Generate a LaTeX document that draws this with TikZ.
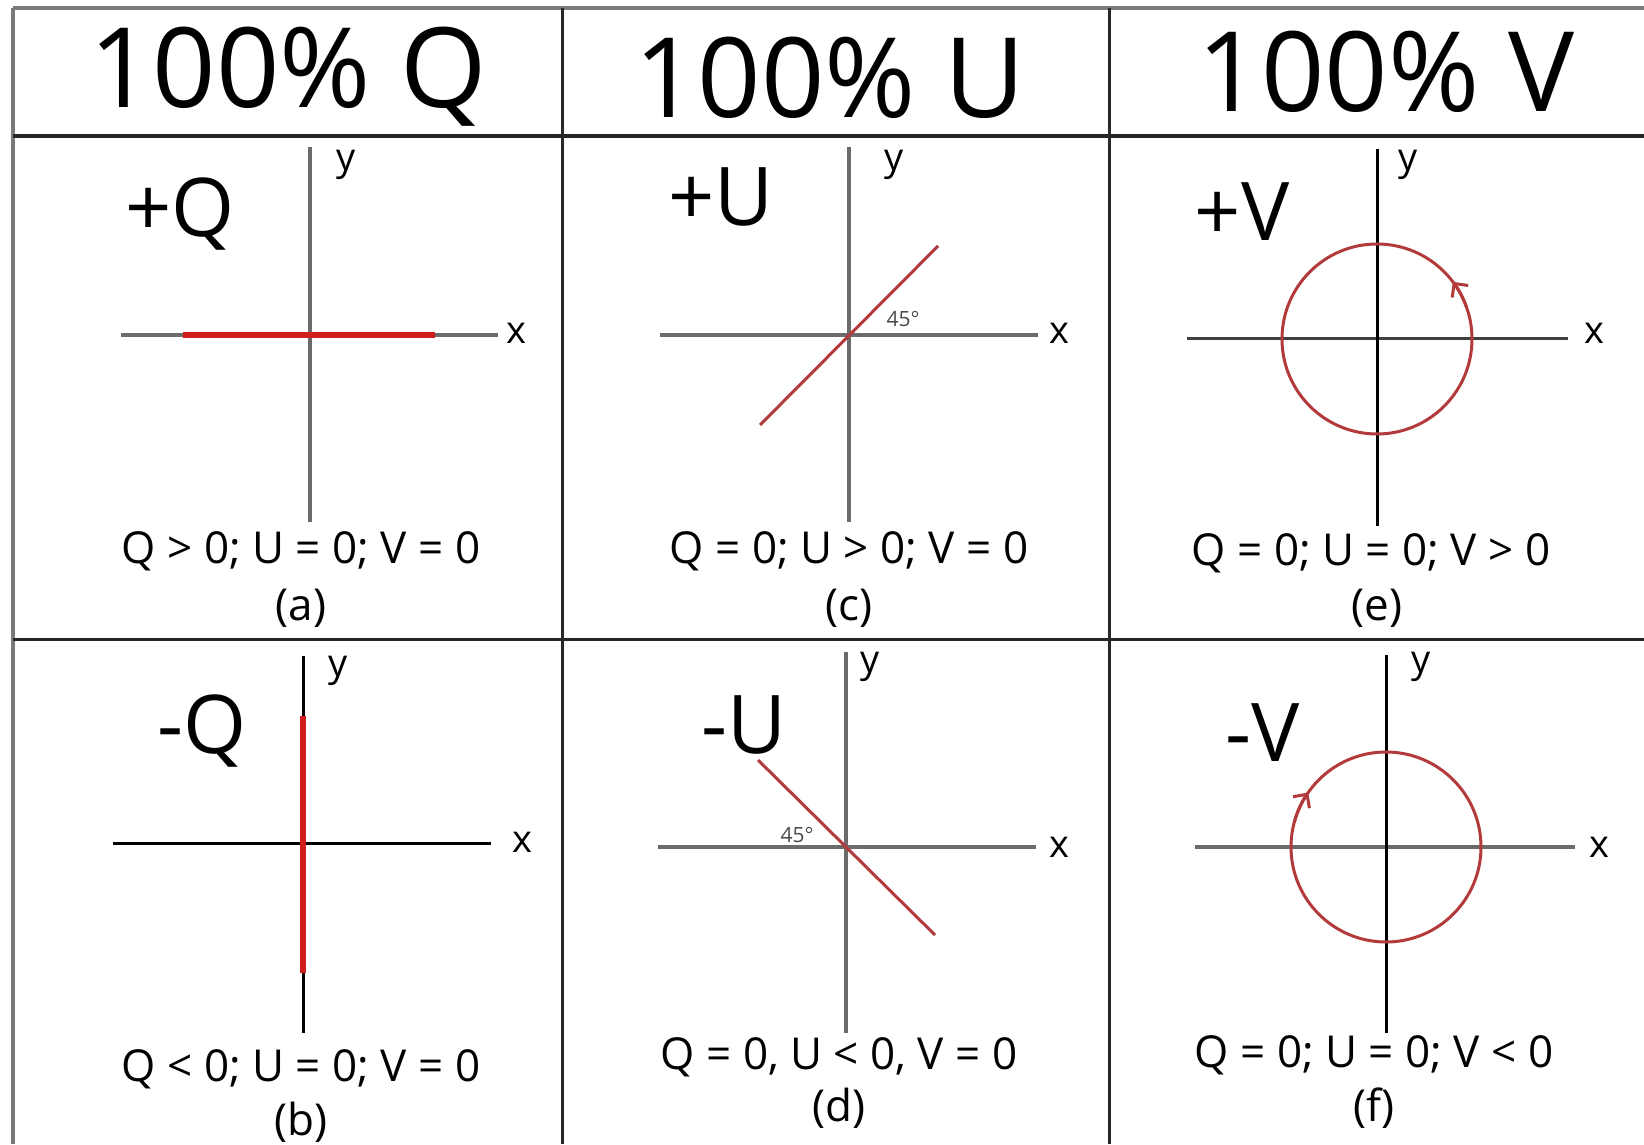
\documentclass[tikz,border=0pt]{standalone}
\usepackage{fontspec}
\setmainfont{Open Sans}
\usetikzlibrary{arrows.meta}
\definecolor{my_rule}{HTML}{262626}
\definecolor{my_frame}{HTML}{7A7A7A}
\definecolor{my_axis}{HTML}{6B6B6B}
\definecolor{my_red}{HTML}{D01E1E}
\definecolor{my_darkred}{HTML}{B23A3A}
\newcommand{\fnthead}{\fontsize{111}{120}\selectfont}
\newcommand{\fntsign}{\fontsize{81}{88}\selectfont}
\newcommand{\fntcond}{\fontsize{44}{50}\selectfont}
\newcommand{\fntaxis}{\fontsize{38}{44}\selectfont}
\newcommand{\fntangle}{\fontsize{21}{24}\selectfont}

\begin{document}
\begin{tikzpicture}[
    x=1pt, y=1pt,
    tablerule/.style={my_rule, line width=3pt},
    tableframe/.style={my_frame, line width=4pt},
    axisline/.style={my_axis, line width=4pt},
    axisdark/.style={black, line width=3pt},
    polline/.style={my_red, line width=6pt},
    redtrace/.style={my_darkred, line width=3pt},
    spin/.style={redtrace, -{Straight Barb[length=10pt, width=20pt]}},
    hdr/.style={inner sep=0pt, anchor=base, font=\fnthead},
    signlbl/.style={inner sep=0pt, font=\fntsign},
    condtext/.style={inner sep=0pt, font=\fntcond},
    axlbl/.style={inner sep=0pt, font=\fntaxis},
    anglbl/.style={inner sep=0pt, font=\fntangle, my_axis!70!black}
]
\useasboundingbox (0,0) rectangle (1644,1144);

% ---------------------------------------------------------------
%  Table: header row + two rows of three panels
%  (pixel grid of the figure, y measured upwards)
% ---------------------------------------------------------------
\draw[tableframe] (13,1136) -- (1644,1136);
\draw[tableframe] (13,1136) -- (13,0);
\draw[tablerule] (562,1136) -- (562,0);
\draw[tablerule] (1109,1136) -- (1109,0);
\draw[tablerule, line width=4pt] (13,1008) -- (1644,1008);
\draw[tablerule] (13,504) -- (1644,504);

% ---- Header row ----
\node[hdr] (hdrQ) at (288,1036) {100\% Q};
\node[hdr] (hdrU) at (830,1026) {100\% U};
\node[hdr] (hdrV) at (1386,1032) {100\% V};

% ---------------------------------------------------------------
%  Panel (a):  +Q, horizontal polarisation
% ---------------------------------------------------------------
\coordinate (Oa) at (310,809);
\draw[axisline] (121,809) -- (498,809);
\draw[axisline] (310,997) -- (310,622);
\draw[polline] (183,809) -- (435,809);
\node[axlbl] (xa) at (516,811) {x};
\node[axlbl] (ya) at (346,979) {y};
\node[signlbl] (sa) at (180,930) {+Q};
\node[condtext] (ca) at (301,593) {Q > 0; U = 0; V = 0};
\node[condtext] (pa) at (301,536) {(a)};

% ---------------------------------------------------------------
%  Panel (c):  +U, line at +45 deg
% ---------------------------------------------------------------
\coordinate (Oc) at (849,809);
\draw[axisline] (660,809) -- (1038,809);
\draw[axisline] (849,997) -- (849,622);
\draw[redtrace] (760,719) -- (938,898);
\node[anglbl] (ac) at (903,825) {45°};
\node[axlbl] (xc) at (1059,811) {x};
\node[axlbl] (yc) at (894,979) {y};
\node[signlbl] (sc) at (721,947) {+U};
\node[condtext] (cc) at (849,593) {Q = 0; U > 0; V = 0};
\node[condtext] (pc) at (849,536) {(c)};

% ---------------------------------------------------------------
%  Panel (e):  +V, counter-clockwise circle
% ---------------------------------------------------------------
\coordinate (Oe) at (1377,805);
\draw[axisdark, my_axis!60!black] (1187,805) -- (1568,805);
\draw[axisdark] (1377,995) -- (1377,618);
\draw[redtrace] (Oe) circle (95);
\draw[spin] (Oe) ++(20:95) arc (20:37:95);
\node[axlbl] (xe) at (1594,811) {x};
\node[axlbl] (ye) at (1408,979) {y};
\node[signlbl] (se) at (1242,932) {+V};
\node[condtext] (ce) at (1371,591) {Q = 0; U = 0; V > 0};
\node[condtext] (pe) at (1377,536) {(e)};

% ---------------------------------------------------------------
%  Panel (b):  -Q, vertical polarisation
% ---------------------------------------------------------------
\coordinate (Ob) at (303,300);
\draw[axisdark] (113,300) -- (491,300);
\draw[axisdark] (303,488) -- (303,111);
\draw[polline] (303,428) -- (303,171);
\node[axlbl] (xb) at (522,302) {x};
\node[axlbl] (yb) at (338,473) {y};
\node[signlbl] (sb) at (202,413) {-Q};
\node[condtext] (cb) at (301,75) {Q < 0; U = 0; V = 0};
\node[condtext] (pb) at (301,22) {(b)};

% ---------------------------------------------------------------
%  Panel (d):  -U, line at -45 deg
% ---------------------------------------------------------------
\coordinate (Od) at (846,297);
\draw[axisline] (658,297) -- (1036,297);
\draw[axisline] (846,492) -- (846,111);
\draw[redtrace] (758,384) -- (935,209);
\node[anglbl] (ad) at (797,309) {45°};
\node[axlbl] (xd) at (1059,297) {x};
\node[axlbl] (yd) at (870,477) {y};
\node[signlbl] (sd) at (744,419) {-U};
\node[condtext] (cd) at (839,87) {Q = 0, U < 0, V = 0};
\node[condtext] (pd) at (839,36) {(d)};

% ---------------------------------------------------------------
%  Panel (f):  -V, clockwise circle
% ---------------------------------------------------------------
\coordinate (Of) at (1386,297);
\draw[axisline] (1195,297) -- (1575,297);
\draw[axisdark] (1386,489) -- (1386,111);
\draw[redtrace] (Of) circle (95);
\draw[spin] (Of) ++(165:95) arc (165:145:95);
\node[axlbl] (xf) at (1599,297) {x};
\node[axlbl] (yf) at (1421,477) {y};
\node[signlbl] (sf) at (1263,411) {-V};
\node[condtext] (cf) at (1374,89) {Q = 0; U = 0; V < 0};
\node[condtext] (pf) at (1374,36) {(f)};

\end{tikzpicture}
\end{document}
